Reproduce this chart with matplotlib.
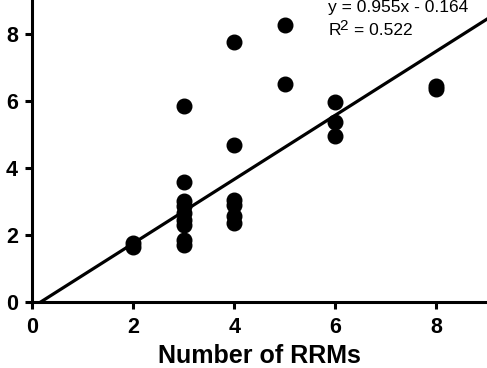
import matplotlib
matplotlib.use("Agg")
import matplotlib.pyplot as plt
import numpy as np


x_rrm = [2, 2,
         3, 3, 3, 3, 3, 3, 3, 3, 3,
         4, 4, 4, 4, 4, 4,
         5, 5,
         6, 6, 6,
         8, 8]
y_val = [1.65, 1.75,
         5.85, 3.58, 3.0, 2.85, 2.65, 2.45, 2.3, 1.85, 1.7,
         7.75, 4.67, 3.05, 2.9, 2.55, 2.35,
         8.25, 6.5,
         5.95, 5.35, 4.95,
         6.45, 6.35]

SLOPE = 0.955
INTERCEPT = -0.164
R2 = 0.522

x_ticks = [0, 2, 4, 6, 8]
y_ticks = [0, 2, 4, 6, 8]

plt.rcParams["font.family"] = ["Liberation Sans", "DejaVu Sans"]

fig = plt.figure(figsize=(4.87, 3.68), dpi=100)
ax = fig.add_axes([32 / 487, 66 / 368, 455 / 487, 302 / 368])

ax.plot(x_rrm, y_val, "o", color="black", markersize=10.5, clip_on=False, zorder=3)

# regression line
xl = np.array([0, 9.0])
ax.plot(xl, SLOPE * xl + INTERCEPT, color="black", linewidth=2.3, zorder=2)

ax.set_xlim(0, 9.0)
ax.set_ylim(0, 9.0)
ax.set_xticks(x_ticks)
ax.set_yticks(y_ticks)

for side in ["top", "right"]:
    ax.spines[side].set_visible(False)
for side in ["left", "bottom"]:
    ax.spines[side].set_linewidth(2.2)

ax.tick_params(axis="both", direction="out", length=5, width=2.2,
               labelsize=15.5)
ax.tick_params(axis="x", pad=6)
ax.tick_params(axis="y", pad=5)
for lbl in ax.get_xticklabels() + ax.get_yticklabels():
    lbl.set_fontweight("bold")

ax.set_xlabel("Number of RRMs", fontsize=18, fontweight="bold", labelpad=4)

ax.text(5.86, 8.63, f"y = {SLOPE}x - {abs(INTERCEPT)}", fontsize=12.5,
        va="baseline", ha="left")
ax.text(5.86, 7.95, "R", fontsize=12.5, va="baseline", ha="left")
ax.text(6.08, 8.12, "2", fontsize=11, va="baseline", ha="left")
ax.text(6.36, 7.95, f"= {R2}", fontsize=12.5, va="baseline", ha="left")

fig.savefig("out.png", dpi=100)
